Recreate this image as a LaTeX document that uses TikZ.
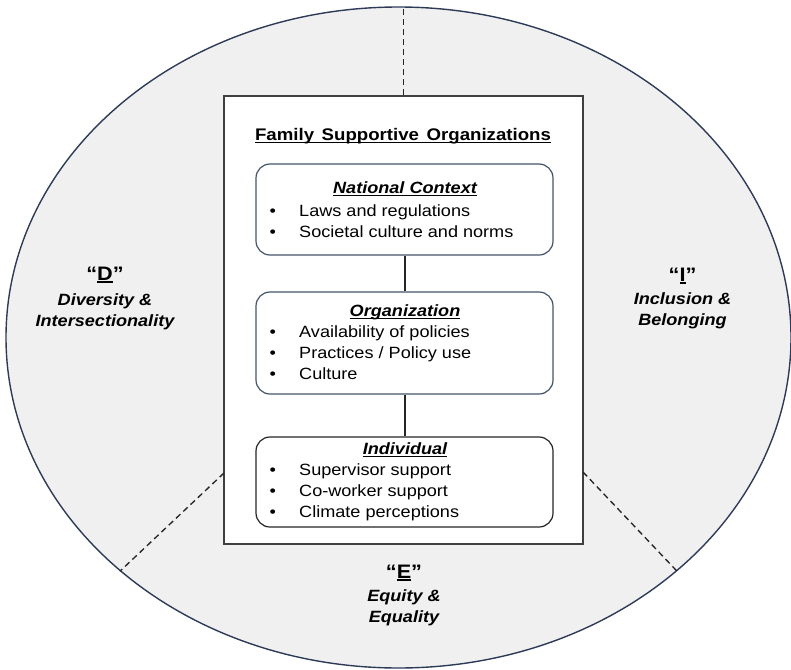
\documentclass[tikz,border=0pt]{standalone}
\usepackage{fontspec}
\setmainfont[FakeStretch=1.11]{Liberation Sans}
\usetikzlibrary{shapes.geometric}
\definecolor{ellfill}{HTML}{F0F0F0}
\definecolor{elldraw}{HTML}{2E3B58}
\definecolor{boxblue}{HTML}{44546A}
\definecolor{boxdark}{HTML}{262626}
\definecolor{framec}{HTML}{3F3F3F}
\newcommand\myul[2][2.8pt]{\setbox0\hbox{#2}\rlap{\rule[-#1]{\wd0}{1.2pt}}\box0}
\newcommand\bul[1]{\makebox[29.5pt][l]{\textbullet}#1}
\begin{document}
\begin{tikzpicture}[x=1pt,y=-1pt,
  lvl/.style={draw=boxblue, line width=1.2pt, rounded corners=14pt, fill=white, minimum width=297pt, inner sep=0},
  bl/.style={anchor=base west, inner sep=0, font=\fontsize{16.3}{19.5}\selectfont},
  hd/.style={anchor=base, inner sep=0, font=\fontsize{16.3}{19.5}\selectfont\bfseries\itshape},
  lab/.style={anchor=base, inner sep=0, font=\fontsize{19.5}{22}\selectfont\bfseries},
  labit/.style={anchor=base, inner sep=0, font=\fontsize{16.3}{19.5}\selectfont\bfseries\itshape},
  conn/.style={draw=black!85, line width=2pt},
  sep/.style={draw=black!85, line width=1.35pt, dash pattern=on 6pt off 4pt}
]
\useasboundingbox (0,0) rectangle (791,669);
% outer ellipse
\node[ellipse, draw=elldraw, fill=ellfill, line width=1.4pt, minimum width=785pt, minimum height=661pt, inner sep=0] (ell) at (398.5,337.5) {};
% central frame
\node[draw=framec, fill=white, line width=1.3pt, minimum width=359pt, minimum height=448pt, inner sep=0] (frame) at (403.5,320) {};
% dashed separators
\coordinate (dl) at (224,473);
\coordinate (dr) at (583,472);
\draw[sep] (frame.north) -- (frame.north |- ell.north);
\draw[sep] (dl) -- (ell.220.5);
\draw[sep] (dr) -- (ell.320.4);
% title
\node[anchor=base, inner sep=0, font=\fontsize{16.8}{20}\selectfont\bfseries] (title) at (403,140) {\myul[3pt]{Family\hspace{0.45em}Supportive\hspace{0.45em}Organizations}};
% level boxes
\node[lvl, minimum height=91pt] (nc) at (404.5,209.5) {};
\node[lvl, minimum height=102pt] (org) at (404.5,343) {};
\node[lvl, draw=boxdark, minimum height=90pt] (ind) at (404.5,482) {};
\draw[conn] (nc) -- (org);
\draw[conn] (org) -- (ind);
% National context
\node[hd] (nch) at (405,193.5) {\myul[2.6pt]{National Context}};
\node[bl] (nc1) at (269.5,216.5) {\bul{Laws and regulations}};
\node[bl] (nc2) at (269.5,237.5) {\bul{Societal culture and norms}};
% Organization
\node[hd] (orgh) at (405,316.5) {\myul[2.6pt]{Organization}};
\node[bl] (org1) at (269.5,337) {\bul{Availability of policies}};
\node[bl] (org2) at (269.5,358) {\bul{Practices / Policy use}};
\node[bl] (org3) at (269.5,379) {\bul{Culture}};
% Individual
\node[hd] (indh) at (405,454.5) {\myul[2.6pt]{Individual}};
\node[bl] (ind1) at (269.5,475.7) {\bul{Supervisor support}};
\node[bl] (ind2) at (269.5,496.7) {\bul{Co-worker support}};
\node[bl] (ind3) at (269.5,517.7) {\bul{Climate perceptions}};
% D
\node[lab] (dq) at (105,280) {“\myul[2.6pt]{D}”};
\node[labit] (d1) at (105,305) {Diversity \&};
\node[labit] (d2) at (105,326) {Intersectionality};
% I
\node[lab] (iq) at (682.5,281) {“\myul[2.6pt]{I}”};
\node[labit] (i1) at (682.5,304.5) {Inclusion \&};
\node[labit] (i2) at (682.5,325) {Belonging};
% E
\node[lab] (eq) at (404,578) {“\myul[2.6pt]{E}”};
\node[labit] (e1) at (404,601.5) {Equity \&};
\node[labit] (e2) at (404,622.5) {Equality};
\end{tikzpicture}
\end{document}
